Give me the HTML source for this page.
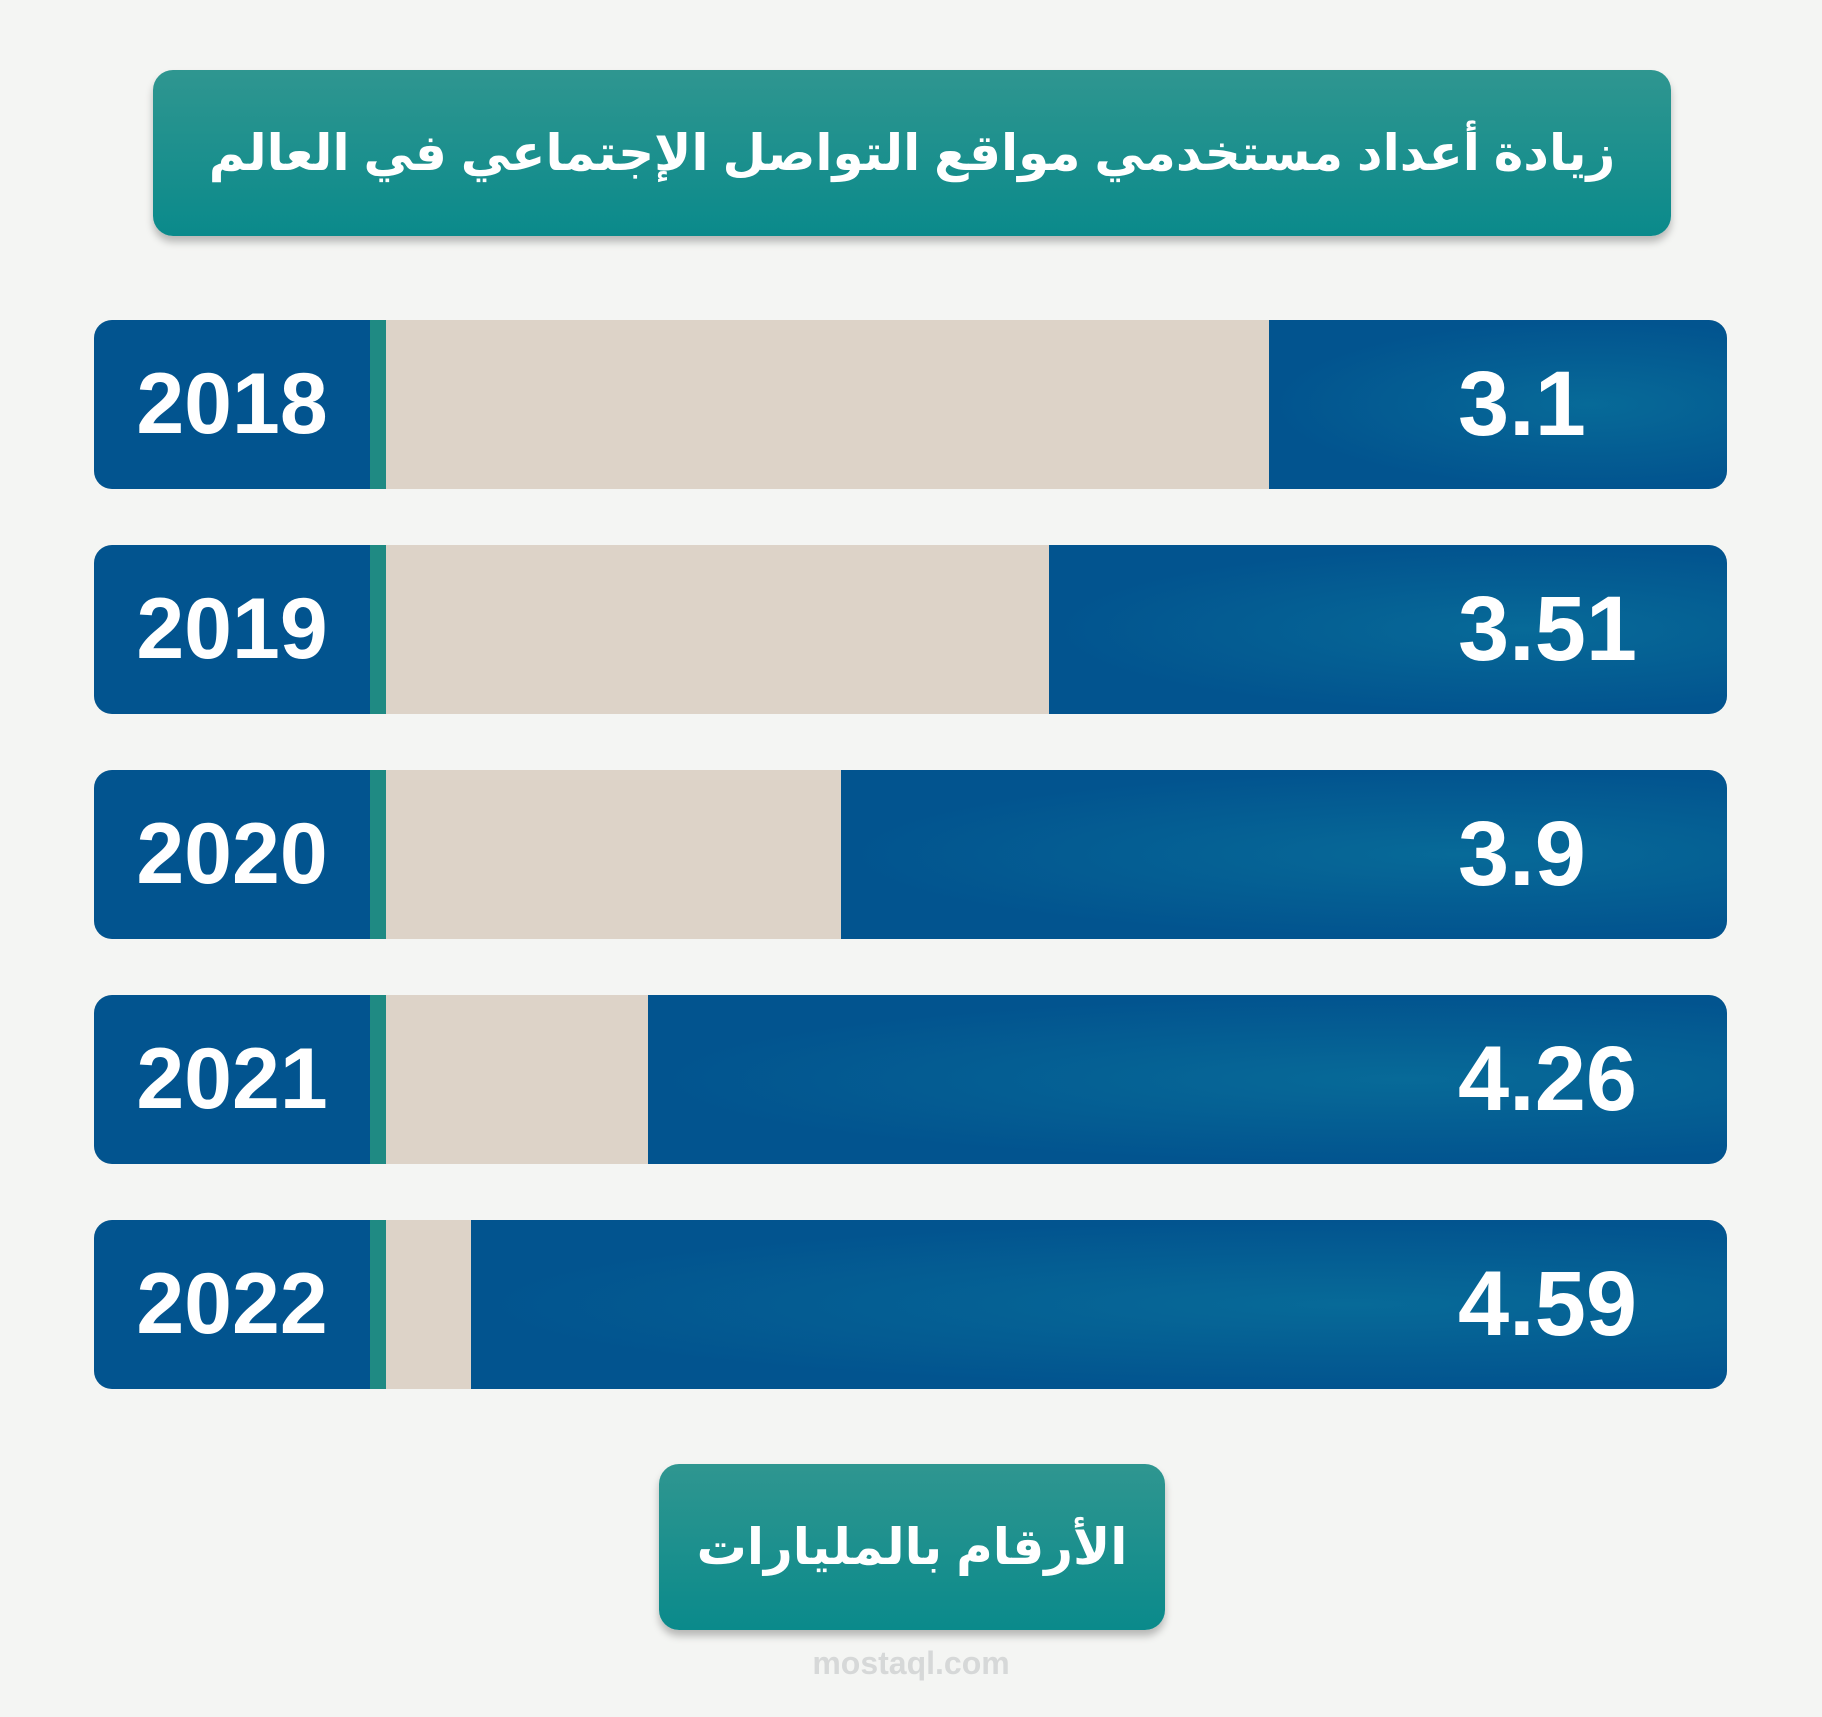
<!DOCTYPE html>
<html><head><meta charset="utf-8"><style>
body{margin:0;width:1822px;height:1717px;background:#f4f5f3;position:relative;overflow:hidden;font-family:"Liberation Sans","DejaVu Sans",sans-serif}
.box{position:absolute;border-radius:20px;background:linear-gradient(180deg,#2f9690,#0a8a8b);box-shadow:0 6px 8px rgba(0,0,0,.25);color:#fff;display:flex;align-items:center;justify-content:center;font-weight:bold;direction:rtl;white-space:nowrap}
.row{position:absolute;left:94px;width:1633px;height:169px;border-radius:18px;overflow:hidden;background:#ddd3c8}
.year{position:absolute;left:0;top:0;width:276px;height:100%;background:#02548f;color:#fff;font-weight:bold;font-size:86px;display:flex;align-items:center;justify-content:center}
.strip{position:absolute;left:276px;top:0;width:16px;height:100%;background:#1f8a83}
.blue{position:absolute;right:0;top:0;height:100%;background:radial-gradient(ellipse at 70% 50%,#076a98,#02548f 70%)}
.val{position:absolute;left:1364px;top:0;height:100%;color:#fff;font-weight:bold;font-size:92px;display:flex;align-items:center}
</style></head><body>
<div class="box" style="left:153px;top:70px;width:1518px;height:166px;font-size:50px">زيادة أعداد مستخدمي مواقع التواصل الإجتماعي في العالم</div>
<div id="rows"></div>
<div class="box" style="left:659px;top:1464px;width:506px;height:166px;font-size:50px">الأرقام بالمليارات</div>
<div style="position:absolute;left:0;width:1822px;top:1645px;text-align:center;color:#d6d8d8;font-size:32px;font-weight:bold">mostaql.com</div>
<script>
const years=["2018","2019","2020","2021","2022"];
const values=[3.1,3.51,3.9,4.26,4.59];
const valueLabels=["3.1","3.51","3.9","4.26","4.59"];
function xScale(v){return 535*v-1200;}
function yPos(i){return 320+i*225;}
const c=document.getElementById('rows');
years.forEach((y,i)=>{
 const r=document.createElement('div');r.className='row';r.style.top=yPos(i)+'px';
 
 
 const b=document.createElement('div');b.className='blue';b.style.width=xScale(values[i])+'px';
 
 
 const yr=document.createElement('div');yr.className='year';yr.textContent=y;
 
 
 const s=document.createElement('div');s.className='strip';
 
 
 const v=document.createElement('div');v.className='val';v.textContent=valueLabels[i];
 
 
 r.append(b,yr,s,v);c.appendChild(r);
});
</script>
</body></html>
